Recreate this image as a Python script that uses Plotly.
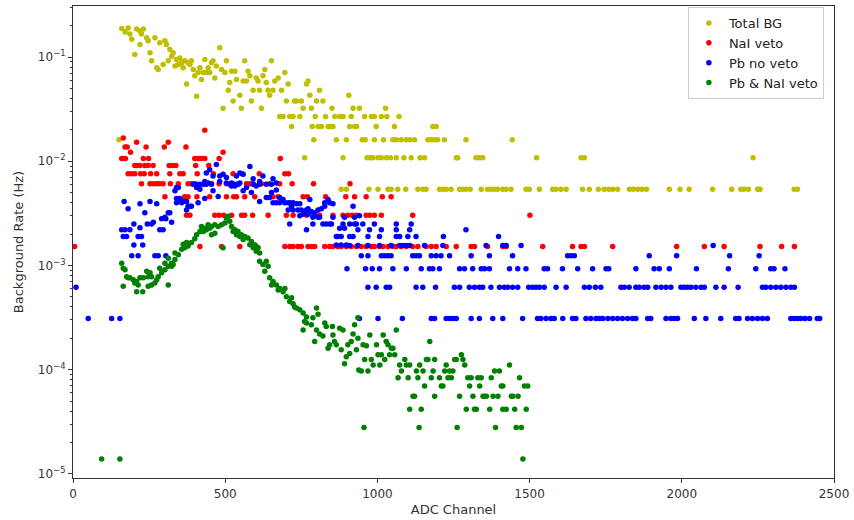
import plotly.graph_objects as go

# ---------------- data (ADC channel, rate in Hz) ----------------
total_bg = [
    (151, 0.0161), (160, 0.188), (171, 0.174), (181, 0.19), (187, 0.166), (193, 0.148), (203, 0.106),
    (209, 0.186), (220, 0.178), (220, 0.132), (225, 0.166), (231, 0.186), (242, 0.153), (247, 0.143),
    (253, 0.11), (258, 0.092), (269, 0.153), (275, 0.079), (280, 0.076), (285, 0.137), (296, 0.085),
    (302, 0.143), (307, 0.132), (313, 0.092), (318, 0.118), (324, 0.102), (329, 0.11), (335, 0.082),
    (340, 0.095), (346, 0.085), (351, 0.098), (357, 0.088), (362, 0.079), (367, 0.092), (373, 0.055),
    (378, 0.088), (384, 0.085), (389, 0.092), (395, 0.076), (400, 0.066), (406, 0.042), (411, 0.071),
    (417, 0.079), (422, 0.061), (428, 0.071), (433, 0.095), (438, 0.071), (444, 0.079), (449, 0.071),
    (455, 0.088), (460, 0.092), (466, 0.063), (471, 0.082), (482, 0.123), (488, 0.076), (493, 0.0323),
    (499, 0.071), (504, 0.092), (510, 0.048), (515, 0.057), (521, 0.073), (526, 0.0378), (532, 0.073),
    (537, 0.061), (548, 0.043), (553, 0.0323), (559, 0.059), (564, 0.092), (570, 0.059), (575, 0.073),
    (581, 0.066), (586, 0.0378), (592, 0.048), (602, 0.063), (608, 0.059), (613, 0.048), (619, 0.0323),
    (624, 0.066), (630, 0.076), (635, 0.057), (641, 0.048), (646, 0.043), (652, 0.092), (657, 0.048),
    (663, 0.059), (674, 0.063), (679, 0.0269), (685, 0.048), (690, 0.0269), (696, 0.071), (701, 0.0378),
    (707, 0.055), (712, 0.0269), (718, 0.0215), (723, 0.0269), (728, 0.0378), (734, 0.0378),
    (767, 0.055), (772, 0.059), (778, 0.043), (906, 0.043), (810, 0.048),
    (750, 0.0378), (800, 0.0378), (821, 0.0378),
    (756, 0.0323), (783, 0.0323), (851, 0.0323), (920, 0.0323), (941, 0.0323), (1027, 0.0323),
    (745, 0.0269), (796, 0.0269), (830, 0.0269), (860, 0.0269), (876, 0.0269), (887, 0.0269),
    (914, 0.0269), (958, 0.0269), (980, 0.0269), (990, 0.0269), (1013, 0.0269), (1031, 0.0269),
    (1071, 0.0269),
    (786, 0.0215), (805, 0.0215), (816, 0.0215), (838, 0.0215), (848, 0.0215), (854, 0.0215),
    (909, 0.0215), (925, 0.0215), (931, 0.0215), (996, 0.0215), (1056, 0.0215), (1182, 0.0215),
    (1193, 0.0215),
    (791, 0.0161), (865, 0.0161), (898, 0.0161), (950, 0.0161), (960, 0.0161), (990, 0.0161),
    (1020, 0.0161), (1051, 0.0161), (1062, 0.0161), (1078, 0.0161), (1095, 0.0161), (1106, 0.0161),
    (1122, 0.0161), (1166, 0.0161), (1177, 0.0161), (1188, 0.0161), (1198, 0.0161), (1220, 0.0161),
    (1291, 0.0161), (1443, 0.0161),
    (761, 0.0108), (887, 0.0108), (966, 0.0108), (976, 0.0108), (985, 0.0108), (1002, 0.0108),
    (1013, 0.0108), (1030, 0.0108), (1043, 0.0108), (1062, 0.0108), (1087, 0.0108), (1111, 0.0108),
    (1140, 0.0108), (1155, 0.0108), (1259, 0.0108), (1264, 0.0108), (1324, 0.0108), (1335, 0.0108),
    (1346, 0.0108), (1523, 0.0108), (1669, 0.0108), (1680, 0.0108), (2234, 0.0108),
    (881, 0.00538), (898, 0.00538), (972, 0.00538), (1002, 0.00538), (1035, 0.00538), (1045, 0.00538),
    (1067, 0.00538), (1093, 0.00538), (1133, 0.00538), (1149, 0.00538), (1160, 0.00538), (1204, 0.00538),
    (1215, 0.00538), (1226, 0.00538), (1242, 0.00538), (1270, 0.00538), (1280, 0.00538), (1291, 0.00538),
    (1305, 0.00538), (1341, 0.00538), (1362, 0.00538), (1373, 0.00538), (1384, 0.00538), (1395, 0.00538),
    (1412, 0.00538), (1423, 0.00538), (1439, 0.00538), (1488, 0.00538), (1499, 0.00538), (1532, 0.00538),
    (1576, 0.00538), (1587, 0.00538), (1603, 0.00538), (1620, 0.00538), (1674, 0.00538), (1696, 0.00538),
    (1726, 0.00538), (1745, 0.00538), (1760, 0.00538), (1773, 0.00538), (1789, 0.00538), (1828, 0.00538),
    (1841, 0.00538), (1855, 0.00538), (1869, 0.00538), (1884, 0.00538), (1959, 0.00538), (1994, 0.00538),
    (2024, 0.00538), (2101, 0.00538), (2164, 0.00538), (2194, 0.00538), (2205, 0.00538), (2219, 0.00538),
    (2249, 0.00538), (2257, 0.00538), (2369, 0.00538), (2380, 0.00538),
]

nai_veto = [
    (433, 0.0198), (165, 0.0167), (209, 0.0152), (313, 0.0152),
    (171, 0.0137), (178, 0.0137), (240, 0.0137), (300, 0.0137), (371, 0.0137),
    (189, 0.0122), (493, 0.0122),
    (160, 0.0106), (166, 0.0106), (172, 0.0106), (231, 0.0106), (248, 0.0106), (400, 0.0106),
    (411, 0.0106), (422, 0.0106), (433, 0.0106), (480, 0.0106), (681, 0.0106),
    (203, 0.00912), (210, 0.00912), (220, 0.00912), (236, 0.00912), (247, 0.00912), (263, 0.00912),
    (316, 0.00912), (327, 0.00912), (338, 0.00912), (403, 0.00912), (446, 0.00912),
    (181, 0.0076), (192, 0.0076), (203, 0.0076), (222, 0.0076), (234, 0.0076), (255, 0.0076),
    (275, 0.0076), (318, 0.0076), (351, 0.0076), (362, 0.0076), (408, 0.0076), (461, 0.0076),
    (526, 0.0076), (556, 0.0076), (612, 0.0076), (696, 0.0076), (708, 0.0076),
    (225, 0.00608), (253, 0.00608), (264, 0.00608), (275, 0.00608), (285, 0.00608), (296, 0.00608),
    (320, 0.00608), (346, 0.00608), (378, 0.00608), (389, 0.00608), (400, 0.00608), (440, 0.00608),
    (455, 0.00608), (480, 0.00608), (504, 0.00608), (526, 0.00608), (570, 0.00608), (581, 0.00608),
    (592, 0.00608), (619, 0.00608), (646, 0.00608), (679, 0.00608), (720, 0.00608), (790, 0.00608),
    (910, 0.00608),
    (302, 0.00456), (367, 0.00456), (378, 0.00456), (407, 0.00456), (449, 0.00456), (504, 0.00456),
    (528, 0.00456), (537, 0.00456), (564, 0.00456), (597, 0.00456), (657, 0.00456), (674, 0.00456),
    (756, 0.00456), (770, 0.00456), (830, 0.00456), (896, 0.00456), (925, 0.00456), (963, 0.00456),
    (1016, 0.00456), (1045, 0.00456),
    (373, 0.00304), (384, 0.00304), (466, 0.00304), (480, 0.00304), (495, 0.00304), (521, 0.00304),
    (554, 0.00304), (564, 0.00304), (590, 0.00304), (641, 0.00304), (701, 0.00304), (723, 0.00304),
    (767, 0.00304), (790, 0.00304), (810, 0.00304), (854, 0.00304), (887, 0.00304), (903, 0.00304),
    (917, 0.00304), (931, 0.00304), (963, 0.00304), (975, 0.00304), (990, 0.00304), (1013, 0.00304),
    (1116, 0.00304), (1501, 0.00304),
    (5, 0.00152), (417, 0.00152), (488, 0.00152), (548, 0.00152), (592, 0.00152), (602, 0.00152),
    (696, 0.00152), (712, 0.00152), (723, 0.00152), (739, 0.00152), (750, 0.00152), (772, 0.00152),
    (783, 0.00152), (794, 0.00152), (827, 0.00152), (843, 0.00152), (854, 0.00152), (870, 0.00152),
    (881, 0.00152), (898, 0.00152), (914, 0.00152), (931, 0.00152), (947, 0.00152), (963, 0.00152),
    (980, 0.00152), (990, 0.00152), (1007, 0.00152), (1018, 0.00152), (1035, 0.00152), (1051, 0.00152),
    (1062, 0.00152), (1078, 0.00152), (1095, 0.00152), (1116, 0.00152), (1133, 0.00152), (1160, 0.00152),
    (1177, 0.00152), (1193, 0.00152), (1226, 0.00152), (1259, 0.00152), (1308, 0.00152), (1319, 0.00152),
    (1362, 0.00152), (1412, 0.00152), (1423, 0.00152), (1543, 0.00152), (1641, 0.00152), (1669, 0.00152),
    (1680, 0.00152), (1773, 0.00152), (1983, 0.00152), (2074, 0.00152), (2139, 0.00152), (2257, 0.00152),
    (2328, 0.00152), (2370, 0.00152),
]

pb_no_veto = [
    (160, 0.0022), (165, 0.0019), (168, 0.0041), (171, 0.0022), (176, 0.0019), (181, 0.0035),
    (187, 0.0022), (193, 0.00124), (200, 0.0025), (200, 0.00157), (214, 0.0019), (214, 0.00124),
    (220, 0.0039), (220, 0.0023), (225, 0.0019), (229, 0.00157), (236, 0.0032), (244, 0.0025),
    (253, 0.0041), (258, 0.0025), (264, 0.0026), (269, 0.00124), (275, 0.0039), (280, 0.00124),
    (285, 0.0022), (291, 0.0028), (296, 0.0022), (302, 0.0029), (305, 0.0028), (305, 0.00124),
    (313, 0.0032), (318, 0.0032), (324, 0.0026),
    (335, 0.0052), (340, 0.0056), (346, 0.0056), (340, 0.0044), (351, 0.0044), (340, 0.0040),
    (357, 0.0040), (362, 0.0041), (373, 0.0041), (373, 0.0034), (378, 0.0037), (384, 0.0037),
    (389, 0.0037), (395, 0.0060), (406, 0.0060), (406, 0.0056), (411, 0.0040), (417, 0.0060),
    (417, 0.0054), (428, 0.0060), (433, 0.0044), (433, 0.0064), (438, 0.0060), (438, 0.0077),
    (444, 0.0062), (449, 0.0083), (455, 0.0060), (460, 0.0052), (460, 0.0072), (471, 0.0093),
    (477, 0.0046), (482, 0.0064), (482, 0.0072), (493, 0.0075), (504, 0.0062), (504, 0.0070),
    (515, 0.0060), (521, 0.0058), (521, 0.0062), (532, 0.0058), (537, 0.0060), (537, 0.0072),
    (543, 0.0060), (548, 0.0062), (548, 0.0077), (559, 0.0052), (559, 0.0075), (570, 0.0056),
    (581, 0.0089), (586, 0.0050), (592, 0.0060), (592, 0.0068), (602, 0.0058), (613, 0.0060),
    (613, 0.0041), (613, 0.0064), (624, 0.0072), (635, 0.0060), (635, 0.0045), (646, 0.0045),
    (652, 0.0060), (652, 0.0050), (657, 0.0068), (657, 0.0040), (668, 0.0053), (668, 0.0062),
    (668, 0.0040), (679, 0.0045), (679, 0.0040), (690, 0.0043), (696, 0.0040), (707, 0.0040),
    (707, 0.0034), (712, 0.0040), (712, 0.0025), (718, 0.0037), (723, 0.0040), (723, 0.0034),
    (734, 0.0039), (739, 0.0034), (745, 0.0039), (745, 0.0030), (750, 0.0034), (756, 0.0031),
    (761, 0.0032), (767, 0.0034), (767, 0.0022), (772, 0.0035), (772, 0.0031), (778, 0.0043),
    (783, 0.0033), (788, 0.0029), (788, 0.0025), (794, 0.0032), (805, 0.0029), (805, 0.0034),
    (810, 0.0029), (816, 0.0035), (821, 0.0025), (827, 0.0037), (827, 0.0040), (832, 0.0025),
    (838, 0.0043), (843, 0.0040), (843, 0.0025), (849, 0.0025), (854, 0.0029), (854, 0.0039),
    (865, 0.0019), (865, 0.00157), (870, 0.0019), (876, 0.00227), (881, 0.0019), (881, 0.00157),
    (887, 0.0025), (892, 0.0029), (892, 0.00227), (898, 0.00157), (909, 0.0025), (909, 0.0019),
    (909, 0.00155), (920, 0.0037), (920, 0.0019), (925, 0.0029), (925, 0.0025), (931, 0.0025),
    (936, 0.0022), (936, 0.00155), (941, 0.0030), (952, 0.0025), (969, 0.0019), (969, 0.00155),
    (974, 0.0022), (990, 0.0025), (1007, 0.0019), (1007, 0.00155), (1013, 0.0022), (1045, 0.00155),
    (1062, 0.0025), (1062, 0.0022), (1062, 0.0019), (1073, 0.0019), (1073, 0.00155), (1084, 0.00155),
    (1095, 0.00155), (1100, 0.0019), (1106, 0.00155), (1106, 0.0022), (1111, 0.0025), (1127, 0.0019),
    (1155, 0.00155), (1215, 0.00155), (1217, 0.0019), (1291, 0.0022), (1357, 0.00155), (1398, 0.0019),
    (1412, 0.00155), (1423, 0.00155), (1472, 0.00155), (2103, 0.00155),
    (947, 0.00124), (969, 0.00124), (1013, 0.00124), (1024, 0.00124), (1035, 0.00124), (1045, 0.00124),
    (1116, 0.00124), (1127, 0.00124), (1138, 0.00124), (1177, 0.00124), (1193, 0.00124), (1209, 0.00124),
    (1237, 0.00124), (1308, 0.00124), (1368, 0.00124), (1444, 0.00124), (1625, 0.00124), (1636, 0.00124),
    (1647, 0.00124), (1893, 0.00124), (1983, 0.00124), (2157, 0.00124), (2254, 0.00124),
    (900, 0.000927), (961, 0.000927), (983, 0.000927), (1007, 0.000927), (1051, 0.000927),
    (1095, 0.000927), (1144, 0.000927), (1171, 0.000927), (1182, 0.000927), (1204, 0.000927),
    (1270, 0.000927), (1286, 0.000927), (1313, 0.000927), (1341, 0.000927), (1352, 0.000927),
    (1368, 0.000927), (1434, 0.000927), (1461, 0.000927), (1488, 0.000927), (1548, 0.000927),
    (1559, 0.000927), (1608, 0.000927), (1658, 0.000927), (1707, 0.000927), (1751, 0.000927),
    (1760, 0.000927), (1849, 0.000927), (1909, 0.000927), (1926, 0.000927), (1959, 0.000927),
    (2048, 0.000927), (2153, 0.000927), (2243, 0.000927), (2292, 0.000927), (2303, 0.000927),
    (2339, 0.000927),
    (10, 0.000618), (969, 0.000618), (996, 0.000618), (1029, 0.000618), (1040, 0.000618),
    (1127, 0.000618), (1149, 0.000618), (1191, 0.000618), (1253, 0.000618), (1270, 0.000618),
    (1302, 0.000618), (1319, 0.000618), (1335, 0.000618), (1346, 0.000618), (1373, 0.000618),
    (1401, 0.000618), (1417, 0.000618), (1428, 0.000618), (1444, 0.000618), (1461, 0.000618),
    (1497, 0.000618), (1510, 0.000618), (1521, 0.000618), (1532, 0.000618), (1548, 0.000618),
    (1587, 0.000618), (1620, 0.000618), (1680, 0.000618), (1696, 0.000618), (1716, 0.000618),
    (1734, 0.000618), (1800, 0.000618), (1811, 0.000618), (1827, 0.000618), (1849, 0.000618),
    (1860, 0.000618), (1876, 0.000618), (1888, 0.000618), (1915, 0.000618), (1932, 0.000618),
    (1948, 0.000618), (1964, 0.000618), (1997, 0.000618), (2008, 0.000618), (2019, 0.000618),
    (2030, 0.000618), (2046, 0.000618), (2063, 0.000618), (2074, 0.000618), (2112, 0.000618),
    (2139, 0.000618), (2185, 0.000618), (2265, 0.000618), (2276, 0.000618), (2292, 0.000618),
    (2309, 0.000618), (2325, 0.000618), (2342, 0.000618), (2358, 0.000618), (2370, 0.000618),
    (50, 0.000309), (127, 0.000309), (154, 0.000309), (941, 0.000309), (1002, 0.000309),
    (1082, 0.000309), (1177, 0.000309), (1188, 0.000309), (1226, 0.000309), (1237, 0.000309),
    (1248, 0.000309), (1259, 0.000309), (1308, 0.000309), (1335, 0.000309), (1379, 0.000309),
    (1412, 0.000309), (1477, 0.000309), (1526, 0.000309), (1537, 0.000309), (1554, 0.000309),
    (1570, 0.000309), (1581, 0.000309), (1609, 0.000309), (1641, 0.000309), (1652, 0.000309),
    (1685, 0.000309), (1701, 0.000309), (1718, 0.000309), (1729, 0.000309), (1740, 0.000309),
    (1757, 0.000309), (1773, 0.000309), (1789, 0.000309), (1805, 0.000309), (1822, 0.000309),
    (1838, 0.000309), (1849, 0.000309), (1888, 0.000309), (1898, 0.000309), (1948, 0.000309),
    (1964, 0.000309), (1975, 0.000309), (1986, 0.000309), (2041, 0.000309), (2079, 0.000309),
    (2128, 0.000309), (2177, 0.000309), (2188, 0.000309), (2216, 0.000309), (2232, 0.000309),
    (2249, 0.000309), (2265, 0.000309), (2281, 0.000309), (2358, 0.000309), (2369, 0.000309),
    (2380, 0.000309), (2391, 0.000309), (2405, 0.000309), (2420, 0.000309), (2445, 0.000309),
    (2453, 0.000309),
]

pb_nai_veto = [
    (94, 1.39e-5), (154, 1.39e-5),
    (160, 1.05e-3), (165, 9.4e-4), (171, 9.1e-4), (176, 7.8e-4), (181, 7.6e-4), (187, 7.6e-4),
    (198, 7.3e-4), (209, 7.0e-4), (165, 6.3e-4), (203, 6.8e-4), (214, 6.5e-4), (209, 5.6e-4),
    (229, 5.6e-4), (220, 7.6e-4), (231, 7.6e-4), (247, 7.8e-4), (258, 7.8e-4), (242, 8.8e-4),
    (253, 8.5e-4), (247, 6.3e-4), (258, 6.5e-4), (269, 6.8e-4), (275, 7.3e-4), (280, 7.8e-4),
    (291, 8.5e-4), (302, 9.1e-4), (313, 9.8e-4), (324, 1.05e-3), (335, 1.14e-3), (329, 1.02e-3),
    (285, 9.4e-4), (302, 1.05e-3), (313, 1.17e-3), (324, 9.8e-4), (313, 6.5e-4), (335, 1.32e-3),
    (346, 1.27e-3), (357, 1.43e-3), (367, 1.48e-3), (378, 1.54e-3), (389, 1.66e-3), (400, 1.8e-3),
    (362, 1.6e-3), (373, 1.66e-3), (406, 1.97e-3), (417, 2.12e-3), (422, 2.37e-3), (433, 2.28e-3),
    (444, 2.46e-3), (455, 2.37e-3), (466, 2.46e-3), (477, 2.37e-3), (488, 2.46e-3), (499, 2.55e-3),
    (504, 2.86e-3), (510, 2.97e-3), (515, 2.65e-3), (428, 2.12e-3), (438, 2.2e-3), (449, 2.28e-3),
    (455, 1.97e-3), (466, 2.04e-3), (493, 1.48e-3), (521, 2.37e-3), (532, 2.2e-3), (542, 2.12e-3),
    (553, 1.97e-3), (564, 1.9e-3), (575, 1.83e-3), (586, 1.7e-3), (597, 1.58e-3), (608, 1.48e-3),
    (526, 2.12e-3), (537, 1.97e-3), (548, 1.9e-3), (559, 1.77e-3), (581, 1.58e-3), (592, 1.48e-3),
    (602, 1.37e-3), (613, 1.32e-3), (613, 1.1e-3), (624, 1.02e-3), (635, 1.1e-3), (641, 9.8e-4),
    (630, 8.8e-4), (646, 7.6e-4), (657, 7.0e-4), (668, 6.5e-4), (679, 6.0e-4), (690, 5.6e-4),
    (652, 6.5e-4), (674, 5.8e-4), (696, 6.0e-4), (701, 5.0e-4), (712, 4.5e-4), (723, 4.3e-4),
    (734, 3.9e-4), (745, 3.75e-4), (756, 3.5e-4), (767, 3.2e-4), (728, 4.0e-4), (718, 4.9e-4),
    (761, 2.9e-4), (800, 3.9e-4), (805, 3.4e-4), (788, 3.15e-4), (936, 3.15e-4),
    (756, 2.4e-4), (767, 2.8e-4), (783, 2.7e-4), (794, 1.86e-4), (800, 2.4e-4), (810, 2.2e-4),
    (821, 2.1e-4), (827, 2.8e-4), (832, 2.6e-4), (838, 1.6e-4), (843, 1.73e-4), (852, 2.6e-4),
    (854, 2.15e-4), (859, 1.86e-4), (865, 1.73e-4), (876, 2.5e-4), (881, 1.55e-4), (887, 2.4e-4),
    (892, 1.14e-4), (898, 1.33e-4), (903, 1.73e-4), (909, 1.43e-4), (914, 1.86e-4), (920, 2.2e-4),
    (925, 2.7e-4), (931, 1.55e-4), (936, 2.0e-4), (939, 9.9e-5),
    (975, 2.15e-4), (1019, 2.15e-4), (1062, 2.4e-4), (1029, 1.86e-4), (1172, 1.86e-4),
    (953, 1.73e-4), (964, 1.7e-4), (997, 1.73e-4), (1035, 1.73e-4), (1046, 1.6e-4), (1051, 1.6e-4),
    (958, 1.25e-4), (980, 1.25e-4), (1002, 1.39e-4), (1013, 1.39e-4), (1024, 1.25e-4), (1040, 1.39e-4),
    (1057, 1.39e-4), (1090, 1.25e-4), (1161, 1.25e-4), (1166, 1.25e-4), (1188, 1.25e-4), (1254, 1.25e-4),
    (1259, 1.25e-4), (1276, 1.39e-4), (1281, 1.25e-4),
    (986, 1.11e-4), (1008, 1.11e-4), (1073, 1.11e-4), (1095, 1.11e-4), (1106, 1.11e-4), (1139, 1.11e-4),
    (1226, 1.11e-4), (1287, 1.11e-4), (1434, 1.11e-4),
    (947, 9.73e-5), (969, 9.73e-5), (1079, 9.73e-5), (1128, 9.73e-5), (1150, 9.73e-5), (1183, 9.73e-5),
    (1221, 9.73e-5), (1237, 9.73e-5), (1248, 9.73e-5), (1385, 9.73e-5), (1401, 9.73e-5),
    (1068, 8.34e-5), (1101, 8.34e-5), (1133, 8.34e-5), (1177, 8.34e-5), (1204, 8.34e-5), (1232, 8.34e-5),
    (1243, 8.34e-5), (1297, 8.34e-5), (1308, 8.34e-5), (1330, 8.34e-5), (1341, 8.34e-5), (1374, 8.34e-5),
    (1467, 8.34e-5),
    (1155, 6.95e-5), (1210, 6.95e-5), (1215, 6.95e-5), (1303, 6.95e-5), (1336, 6.95e-5), (1407, 6.95e-5),
    (1412, 6.95e-5), (1483, 6.95e-5), (1494, 6.95e-5),
    (1117, 5.56e-5), (1122, 5.56e-5), (1188, 5.56e-5), (1270, 5.56e-5), (1314, 5.56e-5), (1347, 5.56e-5),
    (1352, 5.56e-5), (1358, 5.56e-5), (1380, 5.56e-5), (1396, 5.56e-5), (1440, 5.56e-5), (1445, 5.56e-5),
    (1462, 5.56e-5),
    (1106, 4.17e-5), (1144, 4.17e-5), (1292, 4.17e-5), (1319, 4.17e-5), (1325, 4.17e-5), (1369, 4.17e-5),
    (1412, 4.17e-5), (1423, 4.17e-5), (1451, 4.17e-5), (1489, 4.17e-5),
    (956, 2.78e-5), (1137, 2.78e-5), (1262, 2.78e-5), (1388, 2.78e-5), (1456, 2.78e-5), (1473, 2.78e-5),
    (1478, 1.39e-5),
]

series_names = ["Total BG", "NaI veto", "Pb no veto", "Pb & NaI veto"]
series_colors = ["#bfbf00", "#ff0000", "#0000ff", "#008000"]
x_ticks = [0, 500, 1000, 1500, 2000, 2500]
y_ticks = [1e-5, 1e-4, 1e-3, 1e-2, 1e-1]
y_tick_text = ["10<sup>−5</sup>", "10<sup>−4</sup>", "10<sup>−3</sup>", "10<sup>−2</sup>", "10<sup>−1</sup>"]

# ---------------- figure ----------------
fig = go.Figure()
for name, pairs, color in zip(series_names, [total_bg, nai_veto, pb_no_veto, pb_nai_veto], series_colors):
    fig.add_trace(go.Scatter(
        x=[p[0] for p in pairs], y=[p[1] for p in pairs],
        mode="markers", name=name,
        marker=dict(color=color, size=5.5, line=dict(width=0)),
    ))

minor_vals = [k * 10.0 ** e for e in range(-6, 0) for k in range(2, 10)]

axis_common = dict(
    showline=True, linecolor="#333333", linewidth=1.2, mirror=True,
    ticks="outside", ticklen=4, tickwidth=1, tickcolor="#333333",
    showgrid=False, zeroline=False,
    tickfont=dict(size=12, color="#333333"),
)

fig.update_layout(
    width=854, height=520,
    margin=dict(l=73, r=18, t=5, b=42),
    paper_bgcolor="white", plot_bgcolor="white",
    font=dict(family="DejaVu Sans", size=12, color="#333333"),
    showlegend=True,
    legend=dict(
        x=0.808, y=0.998, xanchor="left", yanchor="top",
        bgcolor="rgba(255,255,255,0.85)", bordercolor="#cccccc", borderwidth=1,
        font=dict(size=13, color="#222222"), itemsizing="trace",
        tracegroupgap=0,
    ),
    xaxis=dict(
        range=[0, 2500], tickvals=x_ticks,
        title=dict(text="ADC Channel", standoff=5, font=dict(size=13)),
        **axis_common,
    ),
    yaxis=dict(
        type="log", range=[-5.04, -0.51],
        tickvals=y_ticks, ticktext=y_tick_text,
        minor=dict(ticks="outside", ticklen=2, tickvals=minor_vals, tickcolor="#333333", showgrid=False),
        title=dict(text="Background Rate (Hz)", standoff=11, font=dict(size=13)),
        **axis_common,
    ),
)

fig.write_html("out.html")
